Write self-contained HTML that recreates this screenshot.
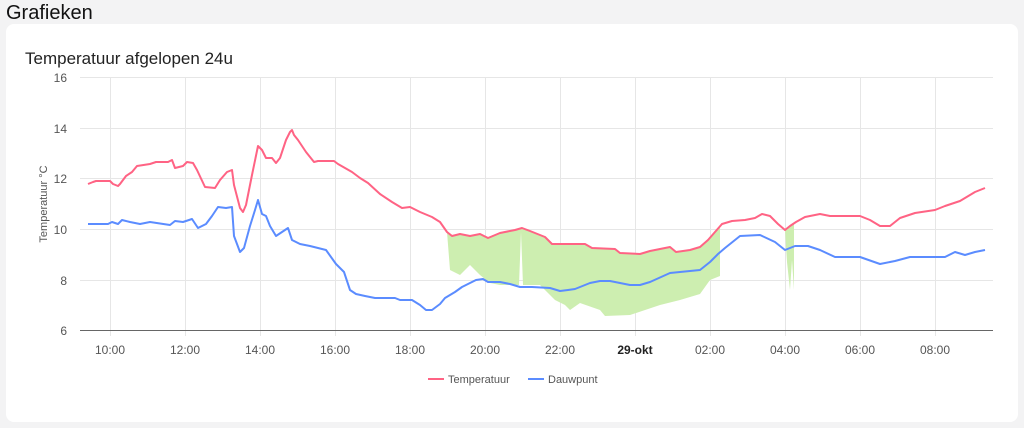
<!DOCTYPE html>
<html><head><meta charset="utf-8"><style>
body{margin:0;width:1024px;height:428px;background:#f3f3f4;font-family:"Liberation Sans",sans-serif;overflow:hidden;position:relative}
.h{position:absolute;left:6px;top:2px;font-size:20px;color:#111}
.card{position:absolute;left:6px;top:24px;width:1012px;height:398px;background:#fff;border-radius:8px}
svg{position:absolute;left:0;top:0}
</style></head><body>
<div class="h">Grafieken</div>
<div class="card"></div>
<svg width="1024" height="428" font-family="Liberation Sans, sans-serif">
<text x="25" y="64" font-size="17" fill="#222">Temperatuur afgelopen 24u</text>
<g stroke="#e6e6e6" stroke-width="1">
<line x1="80" y1="77.5" x2="993" y2="77.5"/><line x1="80" y1="128.5" x2="993" y2="128.5"/><line x1="80" y1="178.5" x2="993" y2="178.5"/><line x1="80" y1="229.5" x2="993" y2="229.5"/><line x1="80" y1="280.5" x2="993" y2="280.5"/>
<line x1="110.5" y1="77" x2="110.5" y2="336"/><line x1="185.5" y1="77" x2="185.5" y2="336"/><line x1="260.5" y1="77" x2="260.5" y2="336"/><line x1="335.5" y1="77" x2="335.5" y2="336"/><line x1="410.5" y1="77" x2="410.5" y2="336"/><line x1="485.5" y1="77" x2="485.5" y2="336"/><line x1="560.5" y1="77" x2="560.5" y2="336"/><line x1="635.5" y1="77" x2="635.5" y2="336"/><line x1="710.5" y1="77" x2="710.5" y2="336"/><line x1="785.5" y1="77" x2="785.5" y2="336"/><line x1="860.5" y1="77" x2="860.5" y2="336"/><line x1="935.5" y1="77" x2="935.5" y2="336"/>
</g>
<line x1="80" y1="330.5" x2="993" y2="330.5" stroke="#666"/>
<g font-size="12" fill="#555" text-anchor="end">
<text x="67" y="82">16</text><text x="67" y="133">14</text><text x="67" y="183">12</text><text x="67" y="234">10</text><text x="67" y="285">8</text><text x="67" y="335">6</text></g>
<text transform="translate(47,204) rotate(-90)" font-size="11" fill="#555" text-anchor="middle">Temperatuur °C</text>
<g font-size="12" fill="#555" text-anchor="middle">
<text x="110" y="354">10:00</text><text x="185" y="354">12:00</text><text x="260" y="354">14:00</text><text x="335" y="354">16:00</text><text x="410" y="354">18:00</text><text x="485" y="354">20:00</text><text x="560" y="354">22:00</text><text x="635" y="354" font-weight="bold" fill="#222">29-okt</text><text x="710" y="354">02:00</text><text x="785" y="354">04:00</text><text x="860" y="354">06:00</text><text x="935" y="354">08:00</text></g>
<path fill="#cdeeb0" d="M447,232 L452,236 460,234 470,236 480,234 488,238 500,233 515,230 522,228 530,231 545,237 552,244 585,244 592,248 615,249 620,253 640,254 650,251 670,247 676,252 690,250 700,247 708,240 715,232 720,226 L720,276 710,280 700,294 680,300 660,305 630,315 605,316 600,310 580,303 570,310 565,305 555,300 540,285 523,285 521,232 519,285 500,285 490,283 480,275 470,265 460,275 450,270 Z"/>
<path fill="#cdeeb0" d="M785,230 L790,226 794,224 794,290 792,260 790,290 787,262 Z"/>
<polyline fill="none" stroke="#ff6384" stroke-width="2" stroke-linejoin="round" points="88,184 93,182 96,181 110,181 113,184 118,186 120,184 126,176 132,172 137,166 150,164 156,162 168,162 172,160 175,168 183,166 187,162 193,163 197,170 205,187 215,188 220,180 227,172 232,170 234,185 240,208 243,212 246,205 252,175 258,146 262,150 266,158 272,158 276,163 280,158 286,140 290,132 292,130 294,135 298,140 306,152 314,162 318,161 334,161 338,164 345,168 352,172 360,178 368,183 380,194 392,202 402,208 410,207 420,212 432,217 440,222 447,232 452,236 460,234 470,236 480,234 488,238 500,233 515,230 522,228 530,231 545,237 552,244 585,244 592,248 615,249 620,253 640,254 650,251 670,247 676,252 690,250 700,247 708,240 715,232 722,224 732,221 745,220 755,218 762,214 770,216 778,224 785,230 790,226 796,222 805,217 820,214 830,216 860,216 870,220 880,226 890,226 900,218 915,213 935,210 945,206 960,201 975,192 985,188"/>
<polyline fill="none" stroke="#5b8cff" stroke-width="2" stroke-linejoin="round" points="88,224 108,224 112,222 118,224 122,220 130,222 140,224 150,222 170,225 175,221 183,222 192,219 198,228 206,224 212,216 218,207 226,208 232,207 234,236 240,252 244,248 250,226 255,210 258,200 262,214 266,216 270,226 276,236 282,232 288,228 292,240 300,244 310,246 326,250 336,264 344,272 350,290 356,294 365,296 375,298 380,298 395,298 400,300 412,300 420,305 426,310 432,310 440,304 445,298 455,292 462,287 470,283 476,280 483,279 488,282 500,282 510,284 520,287 532,287 550,288 560,291 568,290 575,289 590,283 600,281 610,281 620,283 630,285 640,285 650,282 670,273 690,271 700,270 710,262 718,254 725,248 740,236 760,235 775,242 785,250 795,246 808,246 820,250 835,257 860,257 880,264 895,261 910,257 945,257 955,252 965,255 975,252 985,250"/>
<line x1="428" y1="379" x2="444" y2="379" stroke="#ff6384" stroke-width="2"/>
<text x="448" y="383" font-size="11" fill="#555">Temperatuur</text>
<line x1="528" y1="379" x2="544" y2="379" stroke="#5b8cff" stroke-width="2"/>
<text x="548" y="383" font-size="11" fill="#555">Dauwpunt</text>
</svg>
</body></html>
